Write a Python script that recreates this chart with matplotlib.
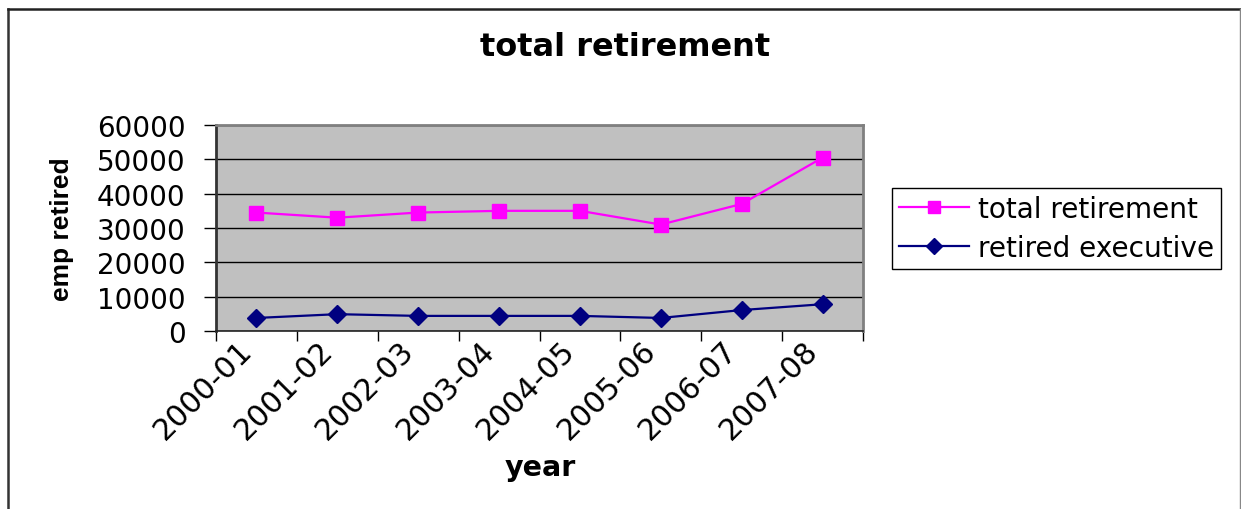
import numpy as np
import matplotlib
matplotlib.use('Agg')
import matplotlib.pyplot as plt
import matplotlib.transforms as mtransforms
from matplotlib.lines import Line2D

# Retirement counts per fiscal year
years = ['2000-01', '2001-02', '2002-03', '2003-04',
         '2004-05', '2005-06', '2006-07', '2007-08']
total_retirement = [34500, 33000, 34500, 35000, 35000, 31000, 37000, 50500]
retired_executive = [3800, 4900, 4400, 4400, 4400, 3800, 6100, 7800]

MAGENTA = '#FF00FF'
NAVY = '#000080'
PLOT_BG = '#C0C0C0'

fig = plt.figure(figsize=(12.41, 5.10), dpi=100)
fig.patch.set_facecolor('white')

# outer frame of the chart object
fig.add_artist(Line2D([8/1241, 8/1241], [0, 1 - 10/510], color='#333333', lw=1.8))
fig.add_artist(Line2D([8/1241, 1240/1241], [1 - 10/510, 1 - 10/510], color='#222222', lw=1.8))
fig.add_artist(Line2D([1239.5/1241, 1239.5/1241], [0, 1 - 10/510], color='#888888', lw=1.0))

ax = fig.add_axes([216/1241, 1 - 332/510, (863 - 216)/1241, (332 - 126)/510])
ax.set_facecolor(PLOT_BG)

x = np.arange(len(years)) + 0.5
ax.plot(x, total_retirement, color=MAGENTA, lw=1.6, marker='s', markersize=10.5,
        markerfacecolor=MAGENTA, markeredgecolor=MAGENTA, label='total retirement',
        zorder=3)
ax.plot(x, retired_executive, color=NAVY, lw=1.6, marker='D', markersize=9,
        markerfacecolor=NAVY, markeredgecolor=NAVY, label='retired executive',
        zorder=3)

ax.set_xlim(0, len(years))
ax.set_ylim(0, 60000)
ax.set_yticks(np.arange(0, 60001, 10000))
ax.yaxis.grid(True, color='black', lw=1.0)
ax.set_axisbelow(True)

# tick marks at category boundaries, labels at category centres
ax.set_xticks(np.arange(0, len(years) + 1))
ax.set_xticklabels([])
ax.set_xticks(x, minor=True)
ax.set_xticklabels(years, minor=True, rotation=45, ha='right', va='center',
                   rotation_mode='anchor', fontsize=21.5)
ax.tick_params(axis='x', which='minor', length=0, pad=10.5)
ax.tick_params(axis='x', which='major', length=7, width=1, direction='out')
ax.tick_params(axis='y', length=9, width=1, direction='out', labelsize=20, pad=13)

# nudge the slanted year labels left so they end under each point
shift = mtransforms.ScaledTranslation(-9/100, 0, fig.dpi_scale_trans)
for lbl in ax.get_xticklabels(minor=True):
    lbl.set_transform(lbl.get_transform() + shift)

for s in ['top', 'right']:
    ax.spines[s].set_color('#808080')
    ax.spines[s].set_linewidth(2)
ax.spines['left'].set_color('#333333')
ax.spines['left'].set_linewidth(2)
ax.spines['bottom'].set_color('#222222')
ax.spines['bottom'].set_linewidth(1.2)

fig.text(625/1241, 1 - 47/510, 'total retirement', ha='center', va='center',
         fontsize=23, fontweight='bold')
fig.text(540/1241, 1 - 468/510, 'year', ha='center', va='center',
         fontsize=20.5, fontweight='bold')
fig.text(62/1241, 1 - 229/510, 'emp retired', ha='center', va='center',
         rotation=90, fontsize=19, fontweight='bold', family='Liberation Sans')

leg = fig.legend(loc='center left', bbox_to_anchor=(892/1241, 1 - 229.5/510),
                 fontsize=20.2, frameon=True, fancybox=False, edgecolor='black',
                 framealpha=1, handlelength=2.5, handletextpad=0.3,
                 labelspacing=0.4, borderpad=0.25, borderaxespad=0)
leg.get_frame().set_linewidth(1.0)
for h in leg.legend_handles:
    h.set_markersize(8.5)

fig.savefig('out.png', dpi=100)
